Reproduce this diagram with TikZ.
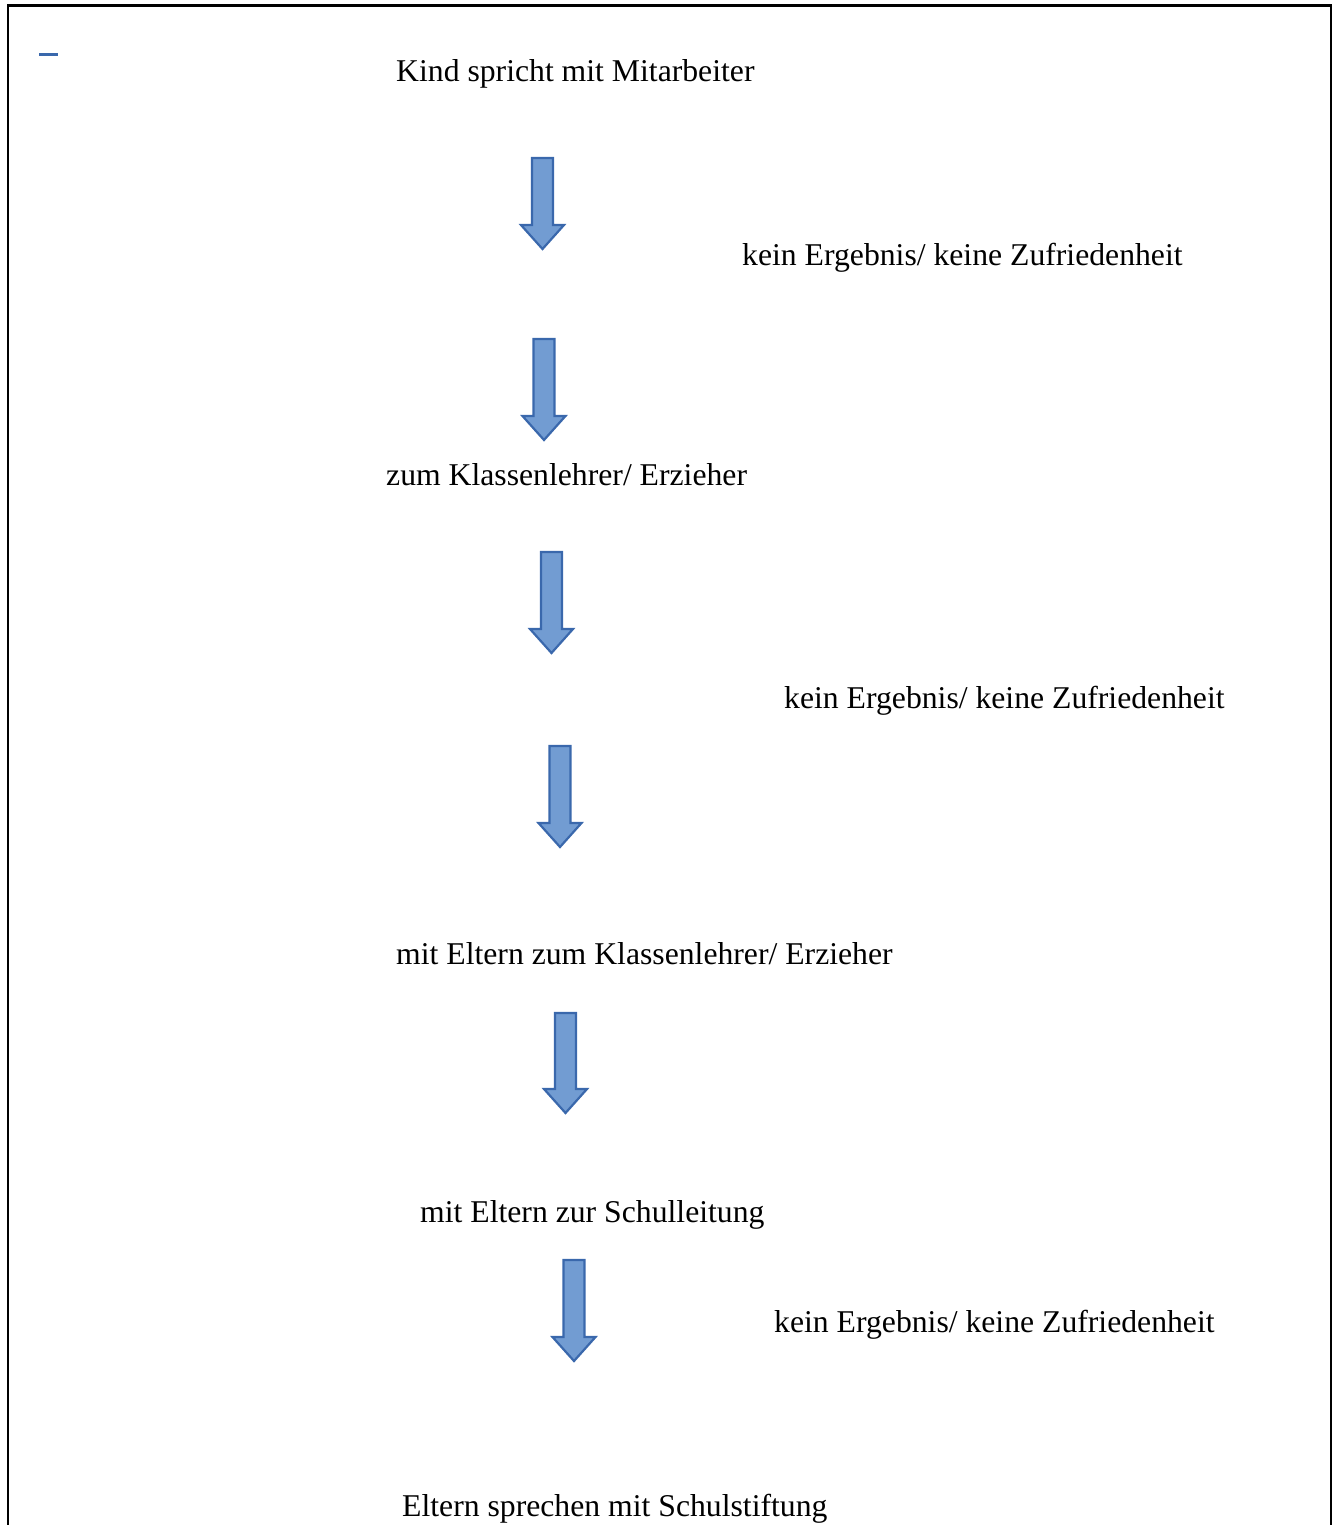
\documentclass[tikz,border=0pt]{standalone}
\usepackage{fontspec}
\setmainfont{Liberation Serif}
\definecolor{arrfill}{RGB}{114,156,210}
\definecolor{arrline}{RGB}{58,104,172}
\tikzset{
  lbl/.style={anchor=base west, inner sep=0pt, font=\fontsize{31.7}{36}\selectfont},
  blockarr/.style={fill=arrfill, draw=arrline, line width=2.2pt, line join=miter},
  frame/.style={draw=black, line width=2.6pt}
}
\newcommand\blockarrow[3]{% center x, top y, tip y
  \draw[blockarr] ({#1-10.5},#2) -- ({#1+10.5},#2) -- ({#1+10.5},{#3-24}) -- ({#1+21.5},{#3-24})
    -- (#1,#3) -- ({#1-21.5},{#3-24}) -- ({#1-10.5},{#3-24}) -- cycle;}
\begin{document}
\begin{tikzpicture}[x=1pt,y=-1pt]
\useasboundingbox (0,0) rectangle (1334,1525);
% frame (bottom edge runs past the page)
\draw[frame] (8,1530) -- (8,5.5) -- (1331,5.5) -- (1331,1530);
% small blue dash
\draw[arrline, line width=3pt] (39,55) -- (58,55);
% texts
\node[lbl] (t1) at (396,82) {Kind spricht mit Mitarbeiter};
\node[lbl] (t2) at (742,265) {kein Ergebnis/ keine Zufriedenheit};
\node[lbl] (t3) at (386,485) {zum Klassenlehrer/ Erzieher};
\node[lbl] (t4) at (784,708) {kein Ergebnis/ keine Zufriedenheit};
\node[lbl] (t5) at (396,964) {mit Eltern zum Klassenlehrer/ Erzieher};
\node[lbl] (t6) at (420,1222) {mit Eltern zur Schulleitung};
\node[lbl] (t7) at (774,1332) {kein Ergebnis/ keine Zufriedenheit};
\node[lbl] (t8) at (402,1516) {Eltern sprechen mit Schulstiftung};
% block arrows
\blockarrow{542.5}{158}{249}
\blockarrow{544}{339}{440}
\blockarrow{551.5}{552}{653}
\blockarrow{560}{746}{847}
\blockarrow{565.5}{1013}{1113}
\blockarrow{574}{1260}{1361}
\end{tikzpicture}
\end{document}
